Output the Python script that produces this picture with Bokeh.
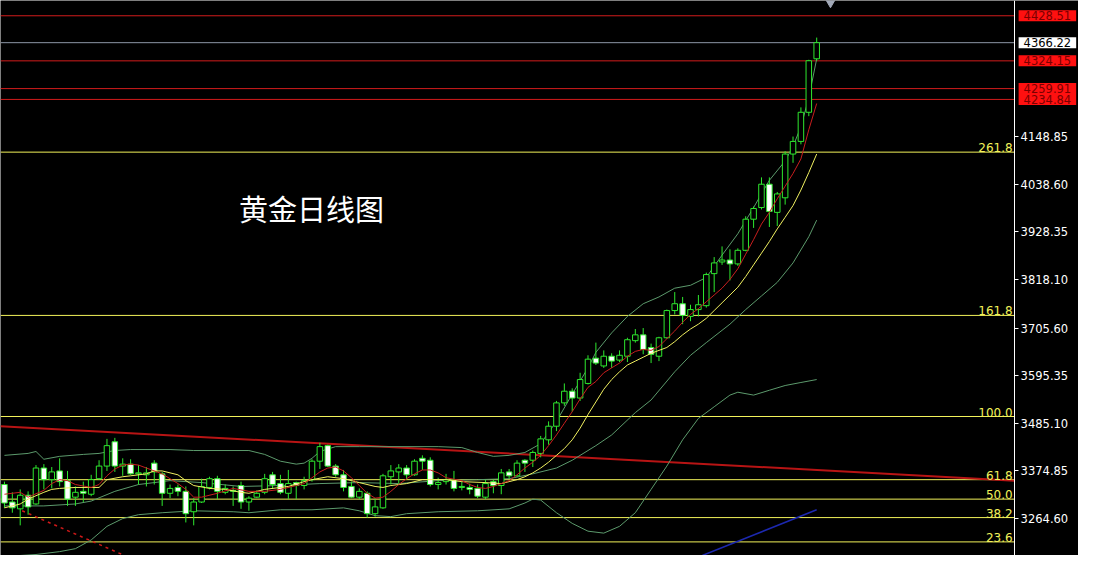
from bokeh.plotting import figure
from bokeh.models import Range1d, FixedTicker, PrintfTickFormatter, Label
from bokeh.embed import file_html
from bokeh.resources import INLINE

# ---------------- data ----------------
opens = [3343.4, 3302.9, 3287.1, 3318.6, 3298.4, 3381.6, 3354.6, 3374.9, 3352.4, 3314.1,
         3327.6, 3320.9, 3356.9, 3386.1, 3442.4, 3386.1, 3390.6, 3368.1, 3365.9, 3392.9,
         3368.1, 3323.1, 3336.6, 3327.6, 3280.4, 3302.9, 3336.6, 3356.9, 3325.4, 3329.9,
         3341.1, 3302.9, 3314.1, 3325.4, 3365.9, 3345.6, 3323.1, 3347.9, 3341.1, 3354.6,
         3397.4, 3433.4, 3386.1, 3365.9, 3338.9, 3314.1, 3323.1, 3275.9, 3289.4, 3361.4,
         3372.6, 3381.6, 3365.9, 3404.1, 3399.6, 3343.4, 3350.1, 3354.6, 3336.6, 3336.6,
         3334.4, 3314.1, 3350.1, 3341.1, 3372.6, 3363.6, 3399.6, 3399.6, 3415.4, 3446.9,
         3478.4, 3532.4, 3559.4, 3543.6, 3577.4, 3635.9, 3617.9, 3640.4, 3631.4, 3640.4,
         3676.4, 3689.9, 3660.6, 3640.4, 3683.1, 3746.1, 3761.9, 3732.6, 3748.4, 3757.4,
         3831.6, 3858.6, 3863.1, 3854.1, 3885.6, 3957.6, 3984.6, 4038.6, 3973.4, 4007.1,
         4108.4, 4137.6, 4205.1, 4328.9]
highs = [3350.1, 3325.4, 3332.1, 3327.6, 3388.4, 3390.6, 3383.9, 3404.1, 3374.9, 3338.9,
         3350.1, 3365.9, 3399.6, 3449.1, 3451.4, 3404.1, 3401.9, 3388.4, 3383.9, 3399.6,
         3372.6, 3343.4, 3343.4, 3338.9, 3311.9, 3356.9, 3361.4, 3363.6, 3343.4, 3338.9,
         3350.1, 3316.4, 3329.9, 3368.1, 3372.6, 3365.9, 3377.1, 3350.1, 3361.4, 3401.9,
         3440.1, 3435.6, 3390.6, 3377.1, 3350.1, 3334.4, 3327.6, 3311.9, 3368.1, 3388.4,
         3390.6, 3388.4, 3401.9, 3410.9, 3406.4, 3359.1, 3368.1, 3374.9, 3350.1, 3345.6,
         3343.4, 3354.6, 3354.6, 3379.4, 3379.4, 3399.6, 3401.9, 3422.1, 3455.9, 3489.6,
         3536.9, 3577.4, 3566.1, 3602.1, 3642.6, 3671.9, 3653.9, 3647.1, 3653.9, 3683.1,
         3703.4, 3705.6, 3669.6, 3685.4, 3748.4, 3788.9, 3777.6, 3759.6, 3782.1, 3833.9,
         3869.9, 3894.6, 3887.9, 3890.1, 3964.4, 3986.9, 4054.4, 4054.4, 4020.6, 4115.1,
         4148.9, 4216.4, 4326.6, 4378.0]
lows = [3289.4, 3278.1, 3248.9, 3273.6, 3296.1, 3332.1, 3334.4, 3338.9, 3293.9, 3293.9,
        3302.9, 3316.4, 3354.6, 3374.9, 3372.6, 3363.6, 3365.9, 3343.4, 3338.9, 3343.4,
        3293.9, 3311.9, 3316.4, 3255.6, 3248.9, 3300.6, 3332.1, 3309.6, 3320.9, 3293.9,
        3287.1, 3282.6, 3311.9, 3320.9, 3334.4, 3320.9, 3309.6, 3309.6, 3332.1, 3350.1,
        3379.4, 3383.9, 3361.4, 3327.6, 3311.9, 3309.6, 3266.9, 3269.1, 3287.1, 3343.4,
        3345.6, 3354.6, 3363.6, 3377.1, 3338.9, 3332.1, 3343.4, 3327.6, 3329.9, 3320.9,
        3311.9, 3309.6, 3323.1, 3320.9, 3356.9, 3361.4, 3372.6, 3383.9, 3406.4, 3435.6,
        3467.1, 3525.6, 3512.1, 3536.9, 3575.1, 3620.1, 3613.4, 3613.4, 3626.9, 3626.9,
        3671.9, 3644.9, 3624.6, 3629.1, 3680.9, 3737.1, 3714.6, 3721.4, 3732.6, 3752.9,
        3788.9, 3851.9, 3815.9, 3849.6, 3883.4, 3937.4, 3980.1, 3939.6, 3941.9, 3991.4,
        4088.1, 4130.9, 4196.1, 4324.4]
closes = [3300.6, 3289.4, 3318.6, 3291.6, 3381.6, 3354.6, 3372.6, 3350.1, 3309.6, 3325.4,
          3323.1, 3354.6, 3386.1, 3433.4, 3386.1, 3390.6, 3368.1, 3370.4, 3370.4, 3372.6,
          3323.1, 3334.4, 3327.6, 3275.9, 3302.9, 3338.9, 3356.9, 3327.6, 3334.4, 3327.6,
          3302.9, 3311.9, 3323.1, 3356.9, 3343.4, 3325.4, 3345.6, 3341.1, 3352.4, 3397.4,
          3431.1, 3386.1, 3365.9, 3336.6, 3314.1, 3327.6, 3275.9, 3291.6, 3363.6, 3374.9,
          3381.6, 3365.9, 3397.4, 3397.4, 3343.4, 3347.9, 3354.6, 3334.4, 3338.9, 3332.1,
          3316.4, 3345.6, 3341.1, 3370.4, 3363.6, 3392.9, 3392.9, 3417.6, 3449.1, 3478.4,
          3532.4, 3559.4, 3543.6, 3586.4, 3633.6, 3624.6, 3640.4, 3629.1, 3642.6, 3678.6,
          3689.9, 3656.1, 3644.9, 3683.1, 3746.1, 3761.9, 3734.9, 3748.4, 3759.6, 3829.4,
          3856.4, 3863.1, 3854.1, 3885.6, 3957.6, 3982.4, 4038.6, 3975.6, 4016.1, 4108.4,
          4137.6, 4205.1, 4324.4, 4366.2]

# MA5 (red)
ma5_x = [0, 2, 3, 5, 6, 7, 8, 9, 11, 12, 13, 14, 15, 16, 17, 18, 20, 22, 23, 24, 25, 27, 29, 31,
         33, 35, 38, 39, 40, 41, 42, 43, 44, 45, 46, 47, 48, 49, 50, 51, 52, 53, 54, 55, 56, 58,
         59, 60, 61, 62, 63, 64, 65, 66, 67, 68, 69, 70, 71, 72, 73, 74, 75, 76, 77, 78, 79, 80,
         81, 82, 83, 84, 85, 86, 87, 88, 89, 90, 91, 92, 93, 94, 95, 96, 97, 98, 99, 100, 101,
         102, 103]
ma5_y = [3320.9, 3325.4, 3314.1, 3329.9, 3345.6, 3354.6, 3352.4, 3343.4, 3336.6, 3343.4,
         3363.6, 3379.4, 3388.4, 3390.6, 3388.4, 3381.6, 3368.1, 3345.6, 3332.1, 3314.1,
         3314.1, 3323.1, 3334.4, 3327.6, 3327.6, 3332.1, 3345.6, 3359.1, 3372.6, 3381.6,
         3383.9, 3374.9, 3359.1, 3341.1, 3323.1, 3311.9, 3314.1, 3327.6, 3343.4, 3356.9,
         3368.1, 3377.1, 3377.1, 3370.4, 3359.1, 3352.4, 3343.4, 3336.6, 3334.4, 3338.9,
         3345.6, 3352.4, 3365.9, 3381.6, 3395.1, 3410.9, 3433.4, 3458.1, 3485.1, 3512.1,
         3541.4, 3568.4, 3581.9, 3602.1, 3613.4, 3624.6, 3640.4, 3651.6, 3656.1, 3653.9,
         3662.9, 3680.9, 3698.9, 3719.1, 3737.1, 3750.6, 3766.4, 3782.1, 3797.9, 3818.1,
         3842.9, 3876.6, 3910.4, 3946.4, 3973.4, 4004.9, 4034.1, 4063.4, 4097.1, 4164.6,
         4225.4]

# MA10 (yellow)
ma10_x = [0, 2, 3, 5, 6, 7, 9, 12, 13, 15, 16, 18, 19, 20, 22, 23, 24, 26, 28, 30, 31, 33, 36,
          38, 39, 41, 43, 45, 47, 48, 49, 51, 53, 56, 58, 61, 63, 64, 65, 66, 67, 68, 69, 70, 71,
          72, 73, 74, 75, 76, 77, 78, 79, 80, 81, 82, 83, 84, 85, 86, 87, 88, 89, 90, 91, 92, 93,
          94, 95, 96, 97, 98, 99, 100, 101, 102, 103]
ma10_y = [3289.4, 3298.4, 3309.6, 3325.4, 3332.1, 3334.4, 3336.6, 3336.6, 3354.6, 3361.4,
          3363.6, 3368.1, 3374.9, 3374.9, 3365.9, 3352.4, 3341.1, 3334.4, 3332.1, 3325.4,
          3323.1, 3332.1, 3338.9, 3350.1, 3354.6, 3361.4, 3356.9, 3347.9, 3338.9, 3336.6,
          3341.1, 3345.6, 3354.6, 3354.6, 3350.1, 3347.9, 3345.6, 3350.1, 3354.6, 3361.4,
          3370.4, 3381.6, 3395.1, 3410.9, 3426.6, 3446.9, 3473.9, 3505.4, 3534.6, 3563.9,
          3586.4, 3604.4, 3620.1, 3629.1, 3638.1, 3647.1, 3653.9, 3660.6, 3674.1, 3689.9,
          3703.4, 3714.6, 3728.1, 3746.1, 3764.1, 3782.1, 3800.1, 3824.9, 3851.9, 3878.9,
          3905.9, 3935.1, 3962.1, 3989.1, 4025.1, 4065.6, 4108.4]

# Bollinger middle (green)
bb_mid_x = [0, 5, 9, 11, 14, 17, 21, 25, 30, 35, 40, 45, 50, 55, 60, 64, 67, 70, 72, 75, 77, 80,
            82, 85, 87, 89, 92, 94, 96, 98, 100, 102, 103]
bb_mid_y = [3293.9, 3293.9, 3298.4, 3305.1, 3327.6, 3343.4, 3352.4, 3347.9, 3338.9, 3341.1,
            3345.6, 3347.9, 3345.6, 3352.4, 3354.6, 3356.9, 3368.1, 3381.6, 3399.6, 3433.4,
            3458.1, 3509.9, 3539.1, 3604.4, 3642.6, 3671.9, 3714.6, 3748.4, 3779.9, 3811.4,
            3856.4, 3917.1, 3955.4]

# Bollinger upper (green)
bb_up_x = [0, 3, 4, 5, 7, 10, 12, 14, 16, 21, 24, 31, 33, 35, 37, 38, 39, 40, 42, 45, 55, 58, 60,
           62, 64, 66, 68, 70, 72, 74, 75, 77, 79, 81, 83, 85, 87, 89, 91, 93, 95, 97, 99, 100,
           101, 102, 103]
bb_up_y = [3410.9, 3415.4, 3419.9, 3401.9, 3408.6, 3413.1, 3415.4, 3422.1, 3424.4, 3424.4,
           3422.1, 3422.1, 3413.1, 3397.4, 3390.6, 3392.9, 3404.1, 3419.9, 3431.1, 3431.1,
           3431.1, 3428.9, 3417.6, 3408.6, 3410.9, 3417.6, 3437.9, 3489.6, 3552.6, 3613.4,
           3649.4, 3694.4, 3732.6, 3761.9, 3777.6, 3797.9, 3804.6, 3822.6, 3874.4, 3923.9,
           3984.6, 4047.6, 4092.6, 4126.4, 4171.4, 4238.9, 4328.9]

# Bollinger lower (green)
bb_lo_x = [0, 4, 7, 9, 11, 13, 15, 17, 20, 24, 29, 31, 35, 39, 43, 45, 47, 49, 51, 55, 60, 64, 66,
           67, 68, 70, 72, 74, 76, 78, 80, 82, 84, 86, 88, 90, 92, 93, 95, 97, 99, 101, 103]
bb_lo_y = [3176.9, 3181.4, 3188.1, 3194.9, 3215.1, 3246.6, 3264.6, 3273.6, 3278.1, 3282.6,
           3280.4, 3278.1, 3284.9, 3284.9, 3289.4, 3282.6, 3271.4, 3269.1, 3275.9, 3280.4,
           3282.6, 3287.1, 3300.6, 3309.6, 3307.4, 3278.1, 3253.4, 3235.4, 3230.9, 3246.6,
           3278.1, 3332.1, 3386.1, 3446.9, 3496.4, 3523.4, 3550.4, 3557.1, 3550.4, 3561.6,
           3572.6, 3579.6, 3586.4]

# drawn trend lines
trend_x = [-0.5, 128.1]
trend_y = [3478.4, 3352.4]
dash_x = [2.25, 15.5]
dash_y = [3282.6, 3176.9]
blue_x = [88.5, 103]
blue_y = [3179.1, 3284.9]

# Fibonacci levels
fib_values = [4112.85, 3734.85, 3500.85, 3354.6, 3309.6, 3266.85, 3210.6]
fib_labels = ["261.8", "161.8", "100.0", "61.8", "50.0", "38.2", "23.6"]

# price levels
red_levels = [4428.51, 4324.15, 4259.91, 4234.84]
red_labels = ["4428.51", "4324.15", "4259.91", "4234.84"]
last_price = 4366.22
last_label = "4366.22"

tick_values = [3264.60, 3374.85, 3485.10, 3595.35, 3705.60, 3818.10, 3928.35, 4038.60, 4148.85]

title_text = "黄金日线图"

# ---------------- figure ----------------
W, H = 1078, 555
X0, XAXIS, XEND = -0.5, 128.1, 136.2   # chart area, price-axis position, right edge
p = figure(width=W, height=H, output_backend="svg", toolbar_location=None,
           x_range=Range1d(X0, XEND), y_range=Range1d(3179.1, 4463.85),
           y_axis_location="right", x_axis_location=None,
           background_fill_color="black", border_fill_color="black",
           min_border_left=0, min_border_top=0, min_border_bottom=0, min_border_right=0)
p.outline_line_color = None
p.grid.visible = False

ax = p.yaxis[0]
ax.fixed_location = XAXIS
ax.ticker = FixedTicker(ticks=tick_values)
ax.formatter = PrintfTickFormatter(format="%.2f")
ax.axis_line_color = "white"
ax.major_tick_line_color = "white"
ax.major_tick_out = 4
ax.major_tick_in = 0
ax.minor_tick_line_color = None
ax.major_label_standoff = 2
ax.major_label_text_color = "white"
ax.major_label_text_font = "DejaVu Sans"
ax.major_label_text_font_size = "11.5px"

YELLOW = "#f2f25a"
RED = "#d21c1c"
GREEN = "#2ee82e"
BB = "#5c9a6c"

n_f = len(fib_values)
p.segment(x0=[X0] * n_f, x1=[XAXIS] * n_f, y0=fib_values, y1=fib_values,
          line_color=YELLOW, line_width=1)
n_r = len(red_levels)
p.segment(x0=[X0] * n_r, x1=[XAXIS] * n_r, y0=red_levels, y1=red_levels,
          line_color=RED, line_width=1)
p.segment(x0=[X0], x1=[XAXIS], y0=[last_price], y1=[last_price],
          line_color="#8d96a6", line_width=1)

p.line(trend_x, trend_y, line_color="#b81414", line_width=2)
p.line(dash_x, dash_y, line_color="#d01818", line_width=1.5, line_dash="3 4")
p.line(blue_x, blue_y, line_color="#1c28b0", line_width=1.5)

p.line(bb_up_x, bb_up_y, line_color=BB, line_width=1)
p.line(bb_mid_x, bb_mid_y, line_color=BB, line_width=1)
p.line(bb_lo_x, bb_lo_y, line_color=BB, line_width=1)

# candles
idx = list(range(len(opens)))
p.segment(x0=idx, y0=lows, x1=idx, y1=highs, line_color=GREEN, line_width=1)
bull_x = [i for i in idx if closes[i] >= opens[i]]
bear_x = [i for i in idx if closes[i] < opens[i]]
p.vbar(x=bull_x, width=0.7, top=[closes[i] for i in bull_x], bottom=[opens[i] for i in bull_x],
       fill_color="black", line_color=GREEN, line_width=1)
p.vbar(x=bear_x, width=0.7, top=[opens[i] for i in bear_x], bottom=[closes[i] for i in bear_x],
       fill_color="white", line_color=GREEN, line_width=1)

p.line(ma10_x, ma10_y, line_color="#f0f060", line_width=1)
p.line(ma5_x, ma5_y, line_color="#c81e1e", line_width=1)

# small marker at the top
p.scatter([104.75], [4463.0], marker="inverted_triangle", size=12, color="#a2a9b8")

# fib labels
for v, t in zip(fib_values, fib_labels):
    p.add_layout(Label(x=XAXIS, x_offset=-2, y=v, text=t, text_align="right",
                       text_baseline="bottom", text_color=YELLOW, text_font="DejaVu Sans",
                       text_font_size="12px"))

# price boxes on the axis
for v, t in zip(red_levels, red_labels):
    p.add_layout(Label(x=XAXIS, x_offset=4, y=v, text=t, text_align="left",
                       text_baseline="middle", text_color="#7a0000", text_font="DejaVu Sans",
                       text_font_size="11.5px", background_fill_color="#ff1010",
                       padding=(5, 1)))
p.add_layout(Label(x=XAXIS, x_offset=4, y=last_price, text=last_label,
                   text_align="left", text_baseline="middle", text_color="black",
                   text_font="DejaVu Sans", text_font_size="11.5px",
                   background_fill_color="white", padding=(5, 1)))

p.add_layout(Label(x=29.75, y=3984.6, text=title_text, text_font="Noto Sans CJK SC",
                   text_font_size="29px", text_color="white", text_baseline="middle"))

open("out.html", "w").write(file_html(p, INLINE))
